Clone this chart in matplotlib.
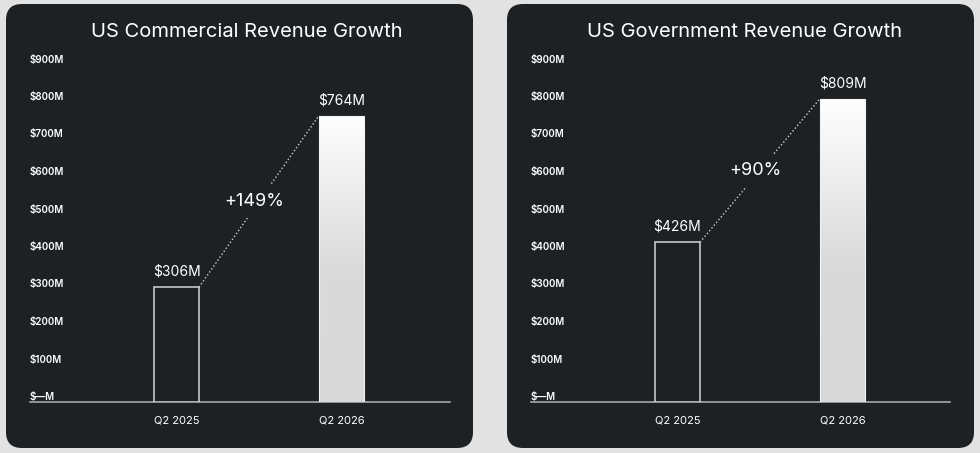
import numpy as np
import matplotlib
matplotlib.use("Agg")
import matplotlib.pyplot as plt
import matplotlib.transforms as mtransforms
from matplotlib.patches import FancyBboxPatch
from matplotlib.colors import LinearSegmentedColormap

plt.rcParams['font.family'] = ['Inter', 'DejaVu Sans']

# data
quarters = ["Q2 2025", "Q2 2026"]
commercial = [306, 764]
government = [426, 809]
commercial_growth = "+149%"
government_growth = "+90%"
titles = ["US Commercial Revenue Growth", "US Government Revenue Growth"]
y_ticks = [0, 100, 200, 300, 400, 500, 600, 700, 800, 900]
y_labels = ["$\u2014M" if v == 0 else f"${v}M" for v in y_ticks]

PAGE = "#e2e2e2"
PANEL = "#1e2124"
W, H = 980, 453

fig = plt.figure(figsize=(9.8, 4.53), dpi=100, facecolor=PAGE)

# background with rounded panels, in pixel units
bg = fig.add_axes([0, 0, 1, 1])
bg.set_xlim(0, W)
bg.set_ylim(H, 0)
bg.axis("off")
panels = [(6, 473), (507, 974)]
for x0, x1 in panels:
    bg.add_patch(FancyBboxPatch((x0, 4), x1 - x0, 444,
                                boxstyle="round,pad=0,rounding_size=16",
                                facecolor=PANEL, edgecolor="none"))

title_x = [247, 745]
for tx, t in zip(title_x, titles):
    bg.text(tx, 32, t, color="white", fontsize=14.5, ha="center", va="center")

grad_cmap = LinearSegmentedColormap.from_list(
    "bar", [(0, "#ffffff"), (0.55, "#dadada"), (1, "#d8d8d8")])

axes_px = [(30, 420), (531, 419)]
ylim_top = 920
px_per_m = 0.375
lift = mtransforms.ScaledTranslation(0, 5 / 100, fig.dpi_scale_trans)
for (ax_x, ax_w), vals, growth in zip(axes_px, [commercial, government],
                                      [commercial_growth, government_growth]):
    ax_h = ylim_top * px_per_m
    ax = fig.add_axes([ax_x / W, (H - 402) / H, ax_w / W, ax_h / H])
    ax.set_facecolor("none")
    left = -146.5 / 165
    x = np.arange(len(quarters))
    bw = 45 / 165

    # first bar: outline only
    ax.bar(x[0], vals[0], width=bw, facecolor=PANEL, edgecolor="#d4d4d4",
           linewidth=1.1, zorder=3)
    # second bar: gradient fill
    b2 = ax.bar(x[1], vals[1], width=bw, facecolor="none", edgecolor="#f2f2f2",
                linewidth=0.8, zorder=4)[0]
    grad = np.linspace(0, 1, 256).reshape(-1, 1)
    im = ax.imshow(grad, cmap=grad_cmap, aspect="auto", origin="upper",
                   extent=[x[1] - bw / 2, x[1] + bw / 2, 0, vals[1]], zorder=3)
    im.set_clip_path(b2)
    ax.set_xlim(left, left + ax_w / 165)
    ax.set_ylim(0, ylim_top)

    # value labels
    for xi, v in zip(x, vals):
        ax.annotate(f"${v}M", (xi, v), xytext=(0, 6), textcoords="offset points",
                    ha="center", va="bottom", color="white", fontsize=10)

    # dotted connector with growth label
    ax.plot([x[0] + bw / 2, x[1] - bw / 2], [vals[0], vals[1]],
            color="#d0d0d0", linewidth=1, linestyle=(0, (1, 1.6)), zorder=2)
    ax.text((x[0] + x[1]) / 2 - 0.03, (vals[0] + vals[1]) / 2, growth,
            ha="center", va="center", color="white", fontsize=13, zorder=5,
            bbox=dict(facecolor=PANEL, edgecolor="none", pad=6))

    # axes styling
    for s in ["top", "right", "left"]:
        ax.spines[s].set_visible(False)
    ax.spines["bottom"].set_color("#a8a8a8")
    ax.spines["bottom"].set_linewidth(1.2)
    ax.set_yticks(y_ticks)
    ax.set_yticklabels(y_labels)
    ax.tick_params(axis="y", length=0, pad=0, colors="white", labelsize=7)
    for lab in ax.get_yticklabels():
        lab.set_ha("left")
        lab.set_va("center")
        lab.set_fontweight("semibold")
        lab.set_transform(lab.get_transform() + lift)
    ax.set_xticks(x)
    ax.set_xticklabels(quarters)
    ax.tick_params(axis="x", length=0, pad=10, colors="white", labelsize=8)

fig.savefig("out.png", dpi=100, facecolor=PAGE)
